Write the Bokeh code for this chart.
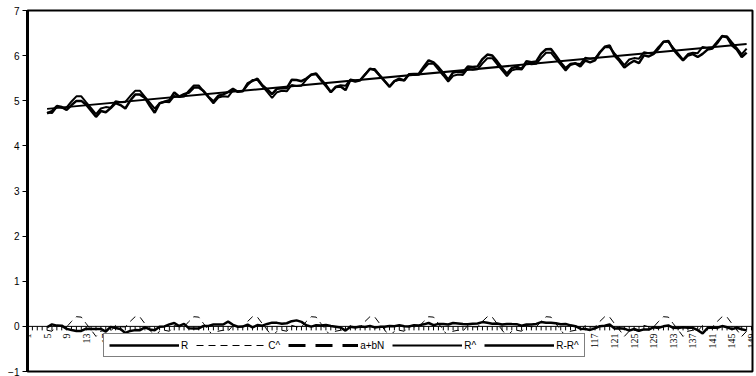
from math import pi, nan
from bokeh.plotting import figure
from bokeh.models import (Range1d, FixedTicker, Span, Legend, LegendItem,
                          ColumnDataSource, LabelSet)
from bokeh.embed import file_html
from bokeh.resources import INLINE

FONT = "Liberation Sans"

# ---------------- data ----------------
categories = list(range(5, 149))          # category numbers carrying data
axis_categories = list(range(1, 150))     # every category on the axis (tick marks)
x_tick_labels = ["1", "5", "9", "13", "17", "21", "25", "29", "33", "37", "41", "45", "49",
                 "53", "57", "61", "65", "69", "73", "77", "81", "85", "89", "93", "97",
                 "101", "105", "109", "113", "117", "121", "125", "129", "133", "137",
                 "141", "145", "149"]
y_ticks = [-1, 0, 1, 2, 3, 4, 5, 6, 7]

R = [
    4.718, 4.771, 4.883, 4.860, 4.796, 4.905, 4.997, 4.997, 4.913, 4.779, 4.644, 4.771,
    4.745, 4.836, 4.949, 4.905, 4.828, 5.004, 5.136, 5.136, 5.063, 4.890, 4.736, 4.942,
    4.977, 5.011, 5.182, 5.094, 5.147, 5.182, 5.293, 5.293, 5.215, 5.088, 4.984, 5.112,
    5.142, 5.193, 5.263, 5.198, 5.209, 5.384, 5.438, 5.489, 5.342, 5.252, 5.147, 5.268,
    5.278, 5.278, 5.464, 5.460, 5.434, 5.493, 5.576, 5.606, 5.468, 5.352, 5.193, 5.303,
    5.318, 5.236, 5.460, 5.425, 5.455, 5.576, 5.710, 5.680, 5.557, 5.434, 5.313, 5.434,
    5.489, 5.451, 5.587, 5.595, 5.598, 5.753, 5.897, 5.849, 5.743, 5.613, 5.468, 5.628,
    5.649, 5.624, 5.759, 5.746, 5.762, 5.924, 6.023, 6.004, 5.872, 5.724, 5.602, 5.724,
    5.753, 5.707, 5.875, 5.852, 5.872, 6.045, 6.142, 6.146, 6.001, 5.849, 5.720, 5.817,
    5.829, 5.762, 5.892, 5.852, 5.894, 6.075, 6.196, 6.225, 6.001, 5.883, 5.737, 5.820,
    5.886, 5.835, 6.006, 5.981, 6.040, 6.157, 6.306, 6.326, 6.138, 6.009, 5.892, 6.004,
    6.033, 5.969, 6.038, 6.133, 6.157, 6.282, 6.433, 6.407, 6.230, 6.133, 5.966, 6.068,
]

C_hat = [
    -0.086, -0.108, 0.022, -0.010, -0.012, 0.110, 0.214, 0.205, 0.060, -0.078, -0.222, -0.107,
    -0.086, -0.108, 0.022, -0.010, -0.012, 0.110, 0.214, 0.205, 0.060, -0.078, -0.222, -0.107,
    -0.086, -0.108, 0.022, -0.010, -0.012, 0.110, 0.214, 0.205, 0.060, -0.078, -0.222, -0.107,
    -0.086, -0.108, 0.022, -0.010, -0.012, 0.110, 0.214, 0.205, 0.060, -0.078, -0.222, -0.107,
    -0.086, -0.108, 0.022, -0.010, -0.012, 0.110, 0.214, 0.205, 0.060, -0.078, -0.222, -0.107,
    -0.086, -0.108, 0.022, -0.010, -0.012, 0.110, 0.214, 0.205, 0.060, -0.078, -0.222, -0.107,
    -0.086, -0.108, 0.022, -0.010, -0.012, 0.110, 0.214, 0.205, 0.060, -0.078, -0.222, -0.107,
    -0.086, -0.108, 0.022, -0.010, -0.012, 0.110, 0.214, 0.205, 0.060, -0.078, -0.222, -0.107,
    -0.086, -0.108, 0.022, -0.010, -0.012, 0.110, 0.214, 0.205, 0.060, -0.078, -0.222, -0.107,
    -0.086, -0.108, 0.022, -0.010, -0.012, 0.110, 0.214, 0.205, 0.060, -0.078, -0.222, -0.107,
    -0.086, -0.108, 0.022, -0.010, -0.012, 0.110, 0.214, 0.205, 0.060, -0.078, -0.222, -0.107,
    -0.086, -0.108, 0.022, -0.010, -0.012, 0.110, 0.214, 0.205, 0.060, -0.078, -0.222, -0.107,
]

trend_x = [5, 148]
trend_y = [4.82, 6.26]

R_hat = [
    4.738, 4.726, 4.866, 4.844, 4.852, 4.984, 5.098, 5.099, 4.964, 4.836, 4.702, 4.828,
    4.859, 4.847, 4.987, 4.965, 4.973, 5.105, 5.219, 5.220, 5.085, 4.957, 4.823, 4.949,
    4.979, 4.967, 5.107, 5.085, 5.093, 5.225, 5.339, 5.340, 5.205, 5.077, 4.943, 5.069,
    5.100, 5.088, 5.228, 5.206, 5.214, 5.346, 5.460, 5.461, 5.326, 5.198, 5.064, 5.190,
    5.221, 5.209, 5.349, 5.327, 5.335, 5.467, 5.581, 5.582, 5.447, 5.319, 5.185, 5.311,
    5.342, 5.330, 5.470, 5.448, 5.456, 5.588, 5.702, 5.703, 5.568, 5.440, 5.306, 5.432,
    5.462, 5.450, 5.590, 5.568, 5.576, 5.708, 5.822, 5.823, 5.688, 5.560, 5.426, 5.552,
    5.583, 5.571, 5.711, 5.689, 5.697, 5.829, 5.943, 5.944, 5.809, 5.681, 5.547, 5.673,
    5.704, 5.692, 5.832, 5.810, 5.818, 5.950, 6.064, 6.065, 5.930, 5.802, 5.668, 5.794,
    5.824, 5.812, 5.952, 5.930, 5.938, 6.070, 6.184, 6.185, 6.050, 5.922, 5.788, 5.914,
    5.945, 5.933, 6.073, 6.051, 6.059, 6.191, 6.305, 6.306, 6.171, 6.043, 5.909, 6.035,
    6.066, 6.054, 6.194, 6.172, 6.180, 6.312, 6.426, 6.427, 6.292, 6.164, 6.030, 6.156,
]

R_minus_R_hat = [
    -0.020, 0.045, 0.017, 0.016, -0.056, -0.079, -0.101, -0.102, -0.051, -0.057, -0.058, -0.057,
    -0.114, -0.011, -0.038, -0.060, -0.145, -0.101, -0.083, -0.084, -0.022, -0.067, -0.087, -0.007,
    -0.002, 0.044, 0.075, 0.009, 0.054, -0.043, -0.046, -0.047, 0.010, 0.011, 0.041, 0.043,
    0.042, 0.105, 0.035, -0.008, -0.005, 0.038, -0.022, 0.028, 0.016, 0.054, 0.083, 0.078,
    0.057, 0.069, 0.115, 0.133, 0.099, 0.026, -0.005, 0.024, 0.021, 0.033, 0.008, -0.008,
    -0.024, -0.094, -0.010, -0.023, -0.001, -0.012, 0.008, -0.023, -0.011, -0.006, 0.007, 0.002,
    0.027, 0.001, -0.003, 0.027, 0.022, 0.045, 0.075, 0.026, 0.055, 0.053, 0.042, 0.076,
    0.066, 0.053, 0.048, 0.057, 0.065, 0.095, 0.080, 0.060, 0.063, 0.043, 0.055, 0.051,
    0.049, 0.015, 0.043, 0.042, 0.054, 0.095, 0.078, 0.081, 0.071, 0.047, 0.052, 0.023,
    0.005, -0.050, -0.060, -0.078, -0.044, 0.005, 0.012, 0.040, -0.049, -0.039, -0.051, -0.094,
    -0.059, -0.098, -0.067, -0.070, -0.019, -0.034, 0.001, 0.020, -0.033, -0.034, -0.017, -0.031,
    -0.033, -0.085, -0.156, -0.039, -0.023, -0.030, 0.007, -0.020, -0.062, -0.031, -0.064, -0.088,
]

# ---------------- figure ----------------
W, H = 756, 376
BORDER_L, BORDER_R, BORDER_T, BORDER_B = 27, 4, 10, 5
Y_MIN, Y_MAX = -1, 7
X_MIN, X_MAX = 1, 149.2

p = figure(width=W, height=H, output_backend="svg", toolbar_location=None,
           x_range=Range1d(X_MIN, X_MAX), y_range=Range1d(Y_MIN, Y_MAX),
           x_axis_location=None,
           min_border_left=BORDER_L, min_border_right=BORDER_R,
           min_border_top=BORDER_T, min_border_bottom=BORDER_B)
p.grid.visible = False
p.background_fill_color = "white"
p.border_fill_color = "white"
p.outline_line_color = "black"
p.outline_line_width = 2

ya = p.yaxis[0]
ya.ticker = FixedTicker(ticks=y_ticks)
ya.axis_line_width = 3
ya.axis_line_color = "black"
ya.major_tick_out = 5
ya.major_tick_in = 0
ya.minor_tick_out = 0
ya.minor_tick_in = 0
ya.major_label_standoff = 3
ya.major_label_text_font = FONT
ya.major_label_text_font_size = "10px"
ya.major_label_text_color = "black"

# category axis crossing at y = 0 (drawn by hand inside the frame)
frame_h = H - BORDER_T - BORDER_B
units_per_px = (Y_MAX - Y_MIN) / frame_h
tick_len = 4 * units_per_px
p.add_layout(Span(location=0, dimension="width", line_color="black", line_width=1))
p.segment(x0=axis_categories, y0=[0] * len(axis_categories),
          x1=axis_categories, y1=[-tick_len] * len(axis_categories),
          line_color="black", line_width=1)
lab_src = ColumnDataSource(dict(x=[int(t) for t in x_tick_labels],
                                y=[0] * len(x_tick_labels), text=x_tick_labels))
p.add_layout(LabelSet(x="x", y="y", text="text", source=lab_src, angle=pi / 2,
                      text_align="right", text_baseline="middle", y_offset=-7,
                      text_font=FONT, text_font_size="10px", text_color="black"))

# ---------------- series ----------------
r_R = p.line(categories, R, line_color="black", line_width=2.5)
r_C = p.line(categories, C_hat, line_color="black", line_width=1, line_dash="7 5")
r_T = p.line(trend_x, trend_y, line_color="black", line_width=2)
key_src = ColumnDataSource(dict(x=[nan, nan], y=[nan, nan]))
r_T_key = p.line(x="x", y="y", source=key_src, line_color="black", line_width=3,
                 line_dash="17 10")
r_Rh = p.line(categories, R_hat, line_color="black", line_width=2)
r_res = p.line(categories, R_minus_R_hat, line_color="black", line_width=2.5)

legend = Legend(items=[
    LegendItem(label="R", renderers=[r_R]),
    LegendItem(label="C^", renderers=[r_C]),
    LegendItem(label="a+bN", renderers=[r_T_key]),
    LegendItem(label="R^", renderers=[r_Rh]),
    LegendItem(label="R-R^", renderers=[r_res]),
], orientation="horizontal", location=(76, 14))
legend.margin = 0
legend.padding = 5
legend.spacing = 8
legend.glyph_width = 70
legend.glyph_height = 12
legend.label_height = 12
legend.label_width = 0
legend.label_standoff = 2
legend.label_text_font = FONT
legend.label_text_font_size = "10px"
legend.label_text_color = "black"
legend.border_line_color = "black"
legend.border_line_width = 1
legend.background_fill_color = "white"
legend.background_fill_alpha = 1
p.add_layout(legend)

open("out.html", "w").write(file_html(p, INLINE))
